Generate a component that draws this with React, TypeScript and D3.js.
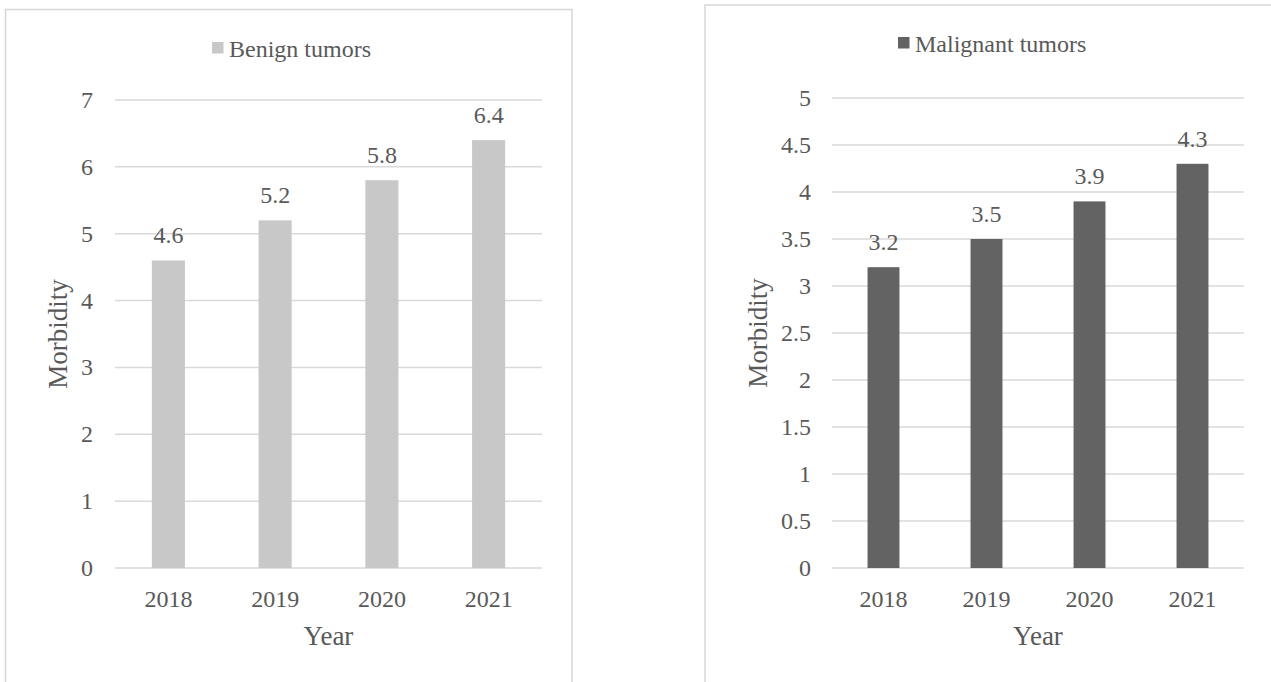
import React from "react";
import * as d3 from "d3";

const years = ["2018", "2019", "2020", "2021"];
const benignValues = [4.6, 5.2, 5.8, 6.4];
const malignantValues = [3.2, 3.5, 3.9, 4.3];
const benignTicks = [0, 1, 2, 3, 4, 5, 6, 7];
const malignantTicks = [0, 0.5, 1, 1.5, 2, 2.5, 3, 3.5, 4, 4.5, 5];

const FONT = "'Liberation Serif', 'Times New Roman', serif";
const TEXT = "#595959";
const GRID = "#d9d9d9";
const BORDER = "#d6d6d6";

type PanelProps = {
  frame: { x: number; y: number; w: number; h: number };
  plot: { x0: number; x1: number; y0: number; y1: number };
  values: number[];
  ticks: number[];
  yMax: number;
  color: string;
  legend: string;
  legendX: number;
  legendY: number;
  yTitleX: number;
  yTickX: number;
};

function Panel(p: PanelProps) {
  const x = d3.scaleBand<string>().domain(years).range([p.plot.x0, p.plot.x1]).paddingInner(0.69).paddingOuter(0.345);
  const y = d3.scaleLinear().domain([0, p.yMax]).range([p.plot.y1, p.plot.y0]);
  const fmt = (v: number) => String(v);
  const cx = (p.plot.x0 + p.plot.x1) / 2;
  const cy = (p.plot.y0 + p.plot.y1) / 2;
  return (
    <g>
      <rect x={p.frame.x} y={p.frame.y} width={p.frame.w} height={p.frame.h} fill="#fff" stroke={BORDER} strokeWidth={1.5} />
      {p.ticks.map((t) => (
        <g key={t}>
          <line x1={p.plot.x0} x2={p.plot.x1} y1={y(t)} y2={y(t)} stroke={GRID} strokeWidth={1.5} />
          <text x={p.yTickX} y={y(t) + 8} textAnchor="end" fontSize={24} fill={TEXT} fontFamily={FONT}>
            {fmt(t)}
          </text>
        </g>
      ))}
      {years.map((yr, i) => (
        <g key={yr}>
          <rect x={x(yr)} y={y(p.values[i])} width={x.bandwidth()} height={y(0) - y(p.values[i])} fill={p.color} />
          <text x={(x(yr) as number) + x.bandwidth() / 2} y={y(p.values[i]) - 17} textAnchor="middle" fontSize={24} fill={TEXT} fontFamily={FONT}>
            {fmt(p.values[i])}
          </text>
          <text x={(x(yr) as number) + x.bandwidth() / 2} y={p.plot.y1 + 39} textAnchor="middle" fontSize={24} fill={TEXT} fontFamily={FONT}>
            {yr}
          </text>
        </g>
      ))}
      <text x={cx} y={p.plot.y1 + 77} textAnchor="middle" fontSize={27} fill={TEXT} fontFamily={FONT}>
        Year
      </text>
      <text
        transform={`translate(${p.yTitleX},${cy}) rotate(-90)`}
        textAnchor="middle"
        fontSize={27}
        fill={TEXT}
        fontFamily={FONT}
      >
        Morbidity
      </text>
      <rect x={p.legendX} y={p.legendY - 15} width={11.5} height={11.5} fill={p.color} />
      <text x={p.legendX + 17} y={p.legendY} fontSize={24} fill={TEXT} fontFamily={FONT}>
        {p.legend}
      </text>
    </g>
  );
}

export default function App() {
  return (
    <svg width={1271} height={682} style={{ position: "absolute", left: 0, top: 0, background: "#fff" }}>
      <Panel
        frame={{ x: 5.5, y: 9.5, w: 566.5, h: 700 }}
        plot={{ x0: 115, x1: 542, y0: 100, y1: 568 }}
        values={benignValues}
        ticks={benignTicks}
        yMax={7}
        color="#c8c8c8"
        legend="Benign tumors"
        legendX={212}
        legendY={57}
        yTitleX={67}
        yTickX={93}
      />
      <Panel
        frame={{ x: 705, y: 5, w: 580, h: 700 }}
        plot={{ x0: 832, x1: 1244, y0: 98, y1: 568 }}
        values={malignantValues}
        ticks={malignantTicks}
        yMax={5}
        color="#636363"
        legend="Malignant tumors"
        legendX={898}
        legendY={52}
        yTitleX={767}
        yTickX={811}
      />
    </svg>
  );
}
